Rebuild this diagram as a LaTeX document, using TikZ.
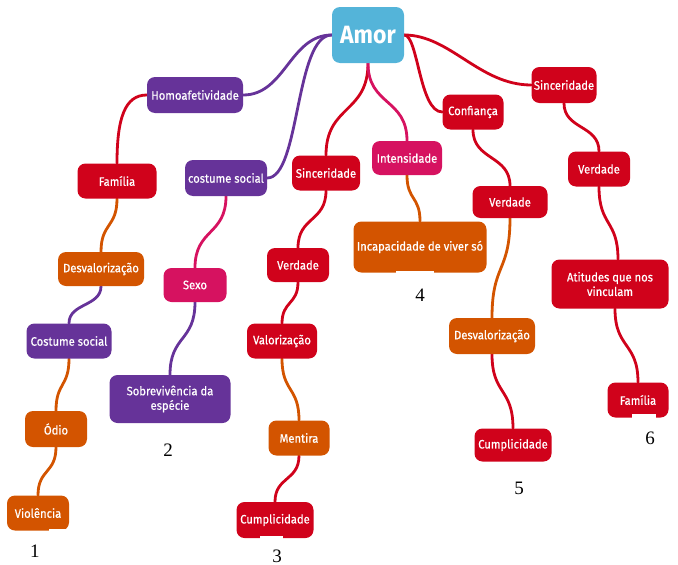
\documentclass[tikz,border=0pt]{standalone}
\usepackage{fontspec}
\setmainfont{Fira Sans}[FakeStretch=0.92,FakeBold=0.6]
\newfontfamily\amorfont{Fira Sans}[FakeStretch=0.92]
\newfontfamily\numfont{Liberation Serif}
\usetikzlibrary{calc}
\pgfdeclarelayer{background}
\pgfsetlayers{background,main}

\definecolor{mmred}{RGB}{208,2,27}
\definecolor{mmorange}{RGB}{211,84,0}
\definecolor{mmpurple}{RGB}{102,51,153}
\definecolor{mmpink}{RGB}{214,18,96}
\definecolor{mmblue}{RGB}{84,180,217}

\tikzset{
  topic/.style={rounded corners=8pt, fill=#1, text=white, align=center,
    font=\fontsize{12.2}{14.5}\selectfont, inner sep=0pt},
  link/.style={draw=#1, line width=2.8pt, line cap=round},
  % vertical S-bend from a lower edge to an upper edge
  sway/.style={to path={.. controls ($(\tikztostart)!0.55!(\tikztostart|-\tikztotarget)$)
      and ($(\tikztotarget)!0.55!(\tikztotarget|-\tikztostart)$) .. (\tikztotarget)}},
  tag/.style={font=\numfont\fontsize{19}{20}\selectfont, text=black, inner sep=0pt},
}

\begin{document}
\begin{tikzpicture}[x=1pt,y=-1pt]
\useasboundingbox (0,0) rectangle (678,565);

% central topic
\node[topic=mmblue, minimum width=72pt, minimum height=56pt,
      font=\amorfont\fontsize{25}{28}\selectfont\bfseries] (amor) at (368,35) {Amor};

% branch 1
\node[topic=mmpurple, minimum width=96pt, minimum height=36pt] (homo) at (195,95) {Homoafetividade};
\node[topic=mmred, minimum width=79pt, minimum height=35pt] (fam1) at (117,181) {Família};
\node[topic=mmorange, minimum width=86pt, minimum height=34pt] (desv1) at (101,269) {Desvalorização};
\node[topic=mmpurple, minimum width=85pt, minimum height=35pt] (cost1) at (69,341) {Costume social};
\node[topic=mmorange, minimum width=62pt, minimum height=36pt] (odio) at (56,429) {Ódio};
\node[topic=mmorange, minimum width=62pt, minimum height=35pt] (viol) at (38,513) {Violência};

% branch 2
\node[topic=mmpurple, minimum width=82pt, minimum height=36pt] (csoc) at (226,178) {costume social};
\node[topic=mmpink, minimum width=63pt, minimum height=34pt] (sexo) at (195,285) {Sexo};
\node[topic=mmpurple, minimum width=121pt, minimum height=48pt] (sobre) at (170,399) {Sobrevivência da\\espécie};

% branch 3
\node[topic=mmred, minimum width=68pt, minimum height=35pt] (sinc1) at (326,173) {Sinceridade};
\node[topic=mmred, minimum width=62pt, minimum height=34pt] (verd1) at (298,265) {Verdade};
\node[topic=mmred, minimum width=70pt, minimum height=35pt] (valor) at (282,341) {Valorização};
\node[topic=mmorange, minimum width=61pt, minimum height=35pt] (ment) at (299,438) {Mentira};
\node[topic=mmred, minimum width=77pt, minimum height=36pt] (cump1) at (275,520) {Cumplicidade};

% branch 4
\node[topic=mmpink, minimum width=70pt, minimum height=34pt] (inten) at (407,158) {Intensidade};
\node[topic=mmorange, minimum width=133pt, minimum height=51pt] (incap) at (420,247) {Incapacidade de viver só};

% branch 5
\node[topic=mmred, minimum width=61pt, minimum height=35pt] (conf) at (473,112) {Confiança};
\node[topic=mmred, minimum width=75pt, minimum height=32pt] (verd2) at (510,202) {Verdade};
\node[topic=mmorange, minimum width=86pt, minimum height=36pt] (desv2) at (492,336) {Desvalorização};
\node[topic=mmred, minimum width=77pt, minimum height=33pt] (cump2) at (513,445) {Cumplicidade};

% branch 6
\node[topic=mmred, minimum width=65pt, minimum height=36pt] (sinc2) at (564,85) {Sinceridade};
\node[topic=mmred, minimum width=62pt, minimum height=35pt] (verd3) at (599,169) {Verdade};
\node[topic=mmred, minimum width=117pt, minimum height=49pt] (atit) at (610,284) {Atitudes que nos\\vinculam};
\node[topic=mmred, minimum width=61pt, minimum height=35pt] (fam2) at (638,400) {Família};

% off-centre attachment points
\coordinate (atit-in) at ($(atit.north)+(8,0)$);
\coordinate (atit-out) at ($(atit.south)+(5,0)$);

% connectors, drawn behind the topics
\begin{pgfonlayer}{background}
  \draw[link=mmpurple] (amor.west) .. controls +(-42,0) and +(42,0) .. (homo.east);
  \draw[link=mmpurple] (amor.west) .. controls +(-37,0) and +(33,0) .. (csoc.east);
  \draw[link=mmred] (amor.south) to[sway] (sinc1.north);
  \draw[link=mmpink] (amor.south) to[sway] (inten.north);
  \draw[link=mmred] (amor.east) .. controls +(14,0) and +(-23,0) .. (conf.west);
  \draw[link=mmred] (amor.east) .. controls +(46,0) and +(-52,0) .. (sinc2.west);

  \draw[link=mmred] (homo.west) .. controls +(-22,0) and +(0,-45) .. (fam1.north);
  \draw[link=mmorange] (fam1.south) to[sway] (desv1.north);
  \draw[link=mmpurple] (desv1.south) to[sway] (cost1.north);
  \draw[link=mmorange] (cost1.south) to[sway] (odio.north);
  \draw[link=mmorange] (odio.south) to[sway] (viol.north);

  \draw[link=mmpink] (csoc.south) to[sway] (sexo.north);
  \draw[link=mmpurple] (sexo.south) to[sway] (sobre.north);

  \draw[link=mmred] (sinc1.south) to[sway] (verd1.north);
  \draw[link=mmred] (verd1.south) to[sway] (valor.north);
  \draw[link=mmorange] (valor.south) to[sway] (ment.north);
  \draw[link=mmred] (ment.south) to[sway] (cump1.north);

  \draw[link=mmorange] (inten.south) to[sway] (incap.north);

  \draw[link=mmred] (conf.south) to[sway] (verd2.north);
  \draw[link=mmorange] (verd2.south) to[sway] (desv2.north);
  \draw[link=mmred] (desv2.south) to[sway] (cump2.north);

  \draw[link=mmred] (sinc2.south) to[sway] (verd3.north);
  \draw[link=mmred] (verd3.south) to[sway] (atit-in);
  \draw[link=mmred] (atit-out) to[sway] (fam2.north);
\end{pgfonlayer}

% white strips along some lower edges
\fill[white] (49,529) rectangle (70,533);
\fill[white] (396,271) rectangle (434,275);
\fill[white] (260,536) rectangle (283,540);
\fill[white] (632,414) rectangle (656,418);

% group numbers
\node[tag] (n1) at (35,551) {1};
\node[tag] (n2) at (168,450) {2};
\node[tag] (n3) at (277,556) {3};
\node[tag] (n4) at (420,295) {4};
\node[tag] (n5) at (519,488) {5};
\node[tag] (n6) at (650,438) {6};
\end{tikzpicture}
\end{document}
